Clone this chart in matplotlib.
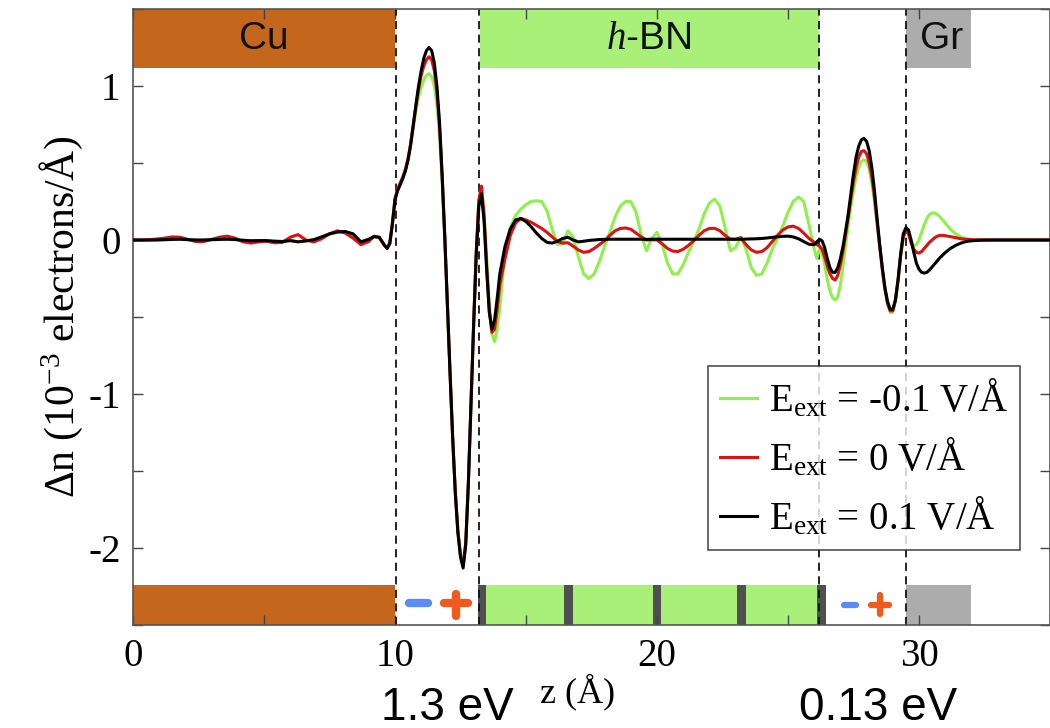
import matplotlib
matplotlib.use("Agg")
import matplotlib.pyplot as plt

plt.rcParams['font.family'] = ['Liberation Serif', 'DejaVu Serif']
plt.rcParams['mathtext.fontset'] = 'custom'
plt.rcParams['mathtext.rm'] = 'Liberation Serif'
plt.rcParams['mathtext.it'] = 'Liberation Serif:italic'
plt.rcParams['mathtext.bf'] = 'Liberation Serif:bold'
plt.rcParams['axes.unicode_minus'] = False

# ---- charge-density difference profiles along z (Angstrom) ----
z = [
    0.0, 0.3, 0.6, 0.9, 1.2, 1.5, 1.8, 2.1, 2.4, 2.7, 3.0, 3.3, 3.6, 3.9, 4.2, 4.5,
    4.8, 5.1, 5.4, 5.7, 6.0, 6.3, 6.6, 6.9, 7.2, 7.5, 7.8, 8.1, 8.4, 8.7, 9.0,
    9.2, 9.4, 9.6, 9.7, 9.8, 9.9,
    10.0, 10.1, 10.2, 10.3, 10.4, 10.5, 10.6, 10.7, 10.8, 10.9,
    11.0, 11.1, 11.2, 11.3, 11.4, 11.5, 11.6, 11.7, 11.8, 11.9,
    12.0, 12.1, 12.2, 12.3, 12.4, 12.5, 12.6, 12.7, 12.8, 12.9,
    13.0, 13.1, 13.2, 13.3, 13.4, 13.5, 13.6, 13.7, 13.8, 13.9, 14.0,
    14.2, 14.4, 14.6, 14.8, 15.0, 15.2, 15.4, 15.6, 15.8, 16.0,
    16.2, 16.4, 16.6, 16.8, 17.0, 17.2, 17.4, 17.6, 17.8, 18.0,
    18.2, 18.4, 18.6, 18.8, 19.0, 19.2, 19.4, 19.6, 19.8, 20.0,
    20.2, 20.4, 20.6, 20.8, 21.0, 21.2, 21.4, 21.6, 21.8, 22.0,
    22.2, 22.4, 22.6, 22.8, 23.0, 23.2, 23.4, 23.6, 23.8, 24.0,
    24.2, 24.4, 24.6, 24.8, 25.0, 25.2, 25.4, 25.6, 25.8, 26.0,
    26.1, 26.2, 26.3, 26.4, 26.5, 26.6, 26.7, 26.8, 26.9, 27.0,
    27.1, 27.2, 27.3, 27.4, 27.5, 27.6, 27.7, 27.8, 27.9, 28.0,
    28.1, 28.2, 28.3, 28.4, 28.5, 28.6, 28.7, 28.8, 28.9, 29.0,
    29.1, 29.2, 29.3, 29.4, 29.5, 29.6, 29.7, 29.8, 29.9, 30.0,
    30.1, 30.2, 30.3, 30.4, 30.5, 30.6, 30.7, 30.8, 30.9, 31.0,
    31.2, 31.4, 31.6, 31.8, 32.0, 32.4, 32.8, 33.2, 33.6, 34.0, 34.5, 35.0,
]

# E_ext = -0.1 V/A
dn_neg = [
    -0.003, -0.003, -0.002, 0.000, 0.002, 0.003, 0.004, 0.002, 0.000, 0.000, 0.002, 0.003,
    0.004, 0.002, -0.002, -0.004, -0.004, -0.004, -0.007, -0.009, -0.004, -0.010, -0.006,
    0.002, 0.018, 0.038, 0.050, 0.052, 0.038, -0.012, 0.005,
    0.020, 0.018, -0.035, -0.050, -0.020, 0.110,
    0.27, 0.33, 0.37, 0.41, 0.46, 0.53, 0.62, 0.73, 0.84, 0.93,
    0.99, 1.04, 1.07, 1.08, 1.06, 1.00, 0.88, 0.68, 0.38, 0.00,
    -0.43, -0.86, -1.28, -1.63, -1.88, -2.04, -2.10, -1.96, -1.57, -1.06,
    -0.54, -0.07, 0.25, 0.33, 0.18, -0.12, -0.42, -0.61, -0.66, -0.58, -0.44,
    -0.07, 0.08, 0.16, 0.20, 0.23, 0.25, 0.255, 0.25, 0.19, 0.07,
    -0.03, -0.025, 0.06, 0.02, -0.11, -0.22, -0.25, -0.22, -0.14, -0.04,
    0.05, 0.15, 0.22, 0.25, 0.25, 0.18, 0.03, -0.07, 0.01, 0.05,
    -0.03, -0.15, -0.22, -0.22, -0.16, -0.08, -0.01, 0.07, 0.17, 0.24,
    0.265, 0.22, 0.08, -0.07, -0.05, 0.02, -0.06, -0.18, -0.23, -0.22,
    -0.15, -0.06, 0.01, 0.09, 0.18, 0.25, 0.28, 0.25, 0.10, -0.06,
    -0.12, -0.06, -0.08, -0.16, -0.26, -0.33, -0.375, -0.39, -0.37, -0.29,
    -0.17, -0.03, 0.10, 0.22, 0.32, 0.41, 0.47, 0.51, 0.52, 0.51,
    0.46, 0.37, 0.25, 0.10, -0.05, -0.19, -0.32, -0.42, -0.47, -0.47,
    -0.40, -0.27, -0.11, 0.02, 0.07, 0.05, -0.01, -0.04, -0.03, 0.00,
    0.05, 0.10, 0.14, 0.165, 0.175, 0.175, 0.165, 0.15, 0.13, 0.11,
    0.07, 0.04, 0.02, 0.009, 0.004, 0.001, 0.0, 0.0, 0.0, 0.0, 0.0, 0.0,
]

# E_ext = 0 V/A
dn_zero = [
    0.000, 0.000, 0.002, 0.006, 0.012, 0.020, 0.018, 0.004, -0.010, -0.010, 0.004, 0.018,
    0.025, 0.012, -0.012, -0.020, -0.012, -0.008, -0.018, -0.016, 0.018, 0.035, 0.000,
    -0.012, 0.008, 0.040, 0.060, 0.045, 0.012, -0.030, -0.010,
    0.025, 0.015, -0.035, -0.050, -0.020, 0.110,
    0.27, 0.33, 0.37, 0.41, 0.46, 0.53, 0.63, 0.75, 0.87, 0.98,
    1.07, 1.13, 1.17, 1.19, 1.17, 1.10, 0.96, 0.74, 0.41, 0.02,
    -0.42, -0.86, -1.28, -1.63, -1.89, -2.05, -2.11, -1.97, -1.58, -1.07,
    -0.55, -0.08, 0.26, 0.35, 0.16, -0.17, -0.46, -0.60, -0.58, -0.45, -0.29,
    -0.12, 0.03, 0.11, 0.14, 0.13, 0.115, 0.095, 0.075, 0.05, 0.02,
    -0.01, -0.02, -0.018, -0.04, -0.065, -0.08, -0.075, -0.055, -0.03, -0.005,
    0.03, 0.06, 0.075, 0.078, 0.07, 0.045, 0.02, 0.0, 0.002, 0.0,
    -0.025, -0.055, -0.072, -0.075, -0.06, -0.035, -0.005, 0.03, 0.06, 0.075,
    0.076, 0.06, 0.03, 0.005, 0.005, 0.015, -0.03, -0.065, -0.08, -0.075,
    -0.05, -0.01, 0.03, 0.065, 0.085, 0.09, 0.075, 0.045, 0.01, -0.015,
    -0.03, -0.04, -0.06, -0.11, -0.17, -0.22, -0.25, -0.26, -0.23, -0.16,
    -0.07, 0.04, 0.15, 0.27, 0.38, 0.47, 0.54, 0.575, 0.58, 0.56,
    0.50, 0.41, 0.28, 0.12, -0.04, -0.19, -0.32, -0.41, -0.46, -0.46,
    -0.39, -0.26, -0.10, 0.02, 0.06, 0.04, -0.02, -0.06, -0.08, -0.085,
    -0.075, -0.055, -0.035, -0.015, 0.0, 0.015, 0.025, 0.03, 0.03, 0.028,
    0.022, 0.015, 0.008, 0.004, 0.002, 0.0, 0.0, 0.0, 0.0, 0.0, 0.0, 0.0,
]

# E_ext = 0.1 V/A
dn_pos = [
    0.000, 0.000, 0.000, 0.000, 0.002, 0.004, 0.005, 0.002, 0.000, 0.000, 0.002, 0.004,
    0.005, 0.003, -0.002, -0.005, -0.004, -0.004, -0.008, -0.010, -0.004, -0.012, -0.006,
    0.002, 0.020, 0.040, 0.052, 0.055, 0.040, -0.012, 0.005,
    0.022, 0.018, -0.035, -0.055, -0.025, 0.100,
    0.26, 0.32, 0.36, 0.40, 0.45, 0.52, 0.62, 0.75, 0.88, 1.00,
    1.10, 1.18, 1.23, 1.25, 1.23, 1.15, 1.00, 0.76, 0.42, 0.02,
    -0.42, -0.86, -1.28, -1.64, -1.90, -2.06, -2.13, -1.98, -1.58, -1.07,
    -0.56, -0.10, 0.22, 0.30, 0.12, -0.20, -0.47, -0.58, -0.52, -0.38, -0.22,
    -0.04, 0.07, 0.13, 0.14, 0.12, 0.085, 0.045, 0.01, -0.015, -0.02,
    -0.008, 0.01, 0.018, 0.0, -0.012, -0.008, -0.003, 0.0, 0.003, 0.004,
    0.005, 0.005, 0.005, 0.005, 0.005, 0.005, 0.005, 0.004, 0.005, 0.006,
    0.005, 0.005, 0.005, 0.005, 0.005, 0.005, 0.005, 0.005, 0.005, 0.005,
    0.005, 0.005, 0.005, 0.005, 0.005, 0.005, 0.006, 0.007, 0.008, 0.010,
    0.013, 0.017, 0.021, 0.024, 0.025, 0.020, 0.008, -0.010, -0.028, -0.030,
    -0.012, 0.004, -0.005, -0.05, -0.12, -0.18, -0.21, -0.21, -0.18, -0.12,
    -0.04, 0.06, 0.17, 0.30, 0.43, 0.54, 0.61, 0.65, 0.66, 0.64,
    0.58, 0.47, 0.32, 0.14, -0.03, -0.18, -0.31, -0.40, -0.45, -0.45,
    -0.39, -0.26, -0.09, 0.04, 0.08, 0.065, 0.0, -0.08, -0.15, -0.19,
    -0.21, -0.215, -0.21, -0.195, -0.175, -0.155, -0.135, -0.115, -0.098, -0.082,
    -0.055, -0.035, -0.02, -0.01, -0.005, -0.001, 0.0, 0.0, 0.0, 0.0, 0.0, 0.0,
]

series_labels = [r'$\mathregular{E_{ext}}$ = -0.1 V/Å',
                 r'$\mathregular{E_{ext}}$ = 0 V/Å',
                 r'$\mathregular{E_{ext}}$ = 0.1 V/Å']
series_colors = ['#8ef04a', '#dd1111', '#000000']

# ---- slab geometry (Angstrom) ----
region_spans = [(0.0, 10.0), (13.25, 26.2), (29.5, 32.0)]
region_colors = ['#c4661b', '#a8f078', '#acacac']
bn_layers = [13.33, 16.62, 20.0, 23.22, 26.28]
interfaces = [10.05, 13.2, 26.2, 29.5]
gap_labels = ['1.3 eV', '0.13 eV']

fig = plt.figure(figsize=(10.5, 7.28), dpi=100)
ax = fig.add_axes([133 / 1050, 1 - 625 / 728, 917 / 1050, 616 / 728])
ax.set_xlim(0, 35)
ax.set_ylim(-2.5, 1.5)

# region bars at top and bottom
top_lo, bot_hi = 1.12, -2.24
for (a, b), c in zip(region_spans, region_colors):
    ax.fill_between([a, b], top_lo, 1.5, color=c, lw=0, zorder=1)
ax.fill_between([region_spans[0][0], region_spans[0][1]], -2.5, bot_hi,
                color=region_colors[0], lw=0, zorder=1)
ax.fill_between([bn_layers[0] - 0.1, bn_layers[-1] + 0.17], -2.5, bot_hi,
                color=region_colors[1], lw=0, zorder=1)
ax.fill_between([region_spans[2][0], region_spans[2][1]], -2.5, bot_hi,
                color=region_colors[2], lw=0, zorder=1)
for zl in bn_layers:
    ax.fill_between([zl - 0.16, zl + 0.16], -2.5, bot_hi, color='#505050', lw=0, zorder=1.5)

# region names
name_pos = [5.0, 19.7, 30.85]
for nm, xp in zip(['Cu', '$h$-BN', 'Gr'], name_pos):
    ax.text(xp, 1.305, nm, ha='center', va='center', fontsize=28,
            family='Liberation Sans', color='#111111', zorder=3)

# interface markers
for zi in interfaces:
    ax.axvline(zi, color='#111111', lw=1.3, dashes=(4.5, 3), zorder=2)

# dipole sign markers
sign_blue, sign_red = '#5b8cf5', '#f05a1e'
ax.plot([10.55, 11.25], [-2.36, -2.36], color=sign_blue, lw=6, solid_capstyle='round', zorder=3)
ax.plot([11.88, 12.78], [-2.36, -2.36], color=sign_red, lw=6, solid_capstyle='round', zorder=3)
ax.plot([12.33, 12.33], [-2.30, -2.44], color=sign_red, lw=6, solid_capstyle='round', zorder=3)
ax.plot([27.12, 27.58], [-2.37, -2.37], color=sign_blue, lw=4.5, solid_capstyle='round', zorder=3)
ax.plot([28.18, 28.84], [-2.37, -2.37], color=sign_red, lw=4.5, solid_capstyle='round', zorder=3)
ax.plot([28.51, 28.51], [-2.305, -2.43], color=sign_red, lw=4.5, solid_capstyle='round', zorder=3)

# profiles
for vals, col, lab, zo in zip([dn_neg, dn_zero, dn_pos], series_colors, series_labels, [4, 5, 6]):
    ax.plot(z, vals, color=col, lw=2.2, label=lab, zorder=zo, solid_joinstyle='round')

# axes styling
ax.set_xticks([0, 10, 20, 30])
ax.set_xticks([5, 15, 25, 35], minor=True)
ax.set_yticks([-2, -1, 0, 1])
ax.set_yticks([-2.5, -1.5, -0.5, 0.5, 1.5], minor=True)
ax.tick_params(which='both', direction='in', top=True, right=True, length=7,
               width=1.0, color='#444444', labelsize=28)
ax.tick_params(axis='x', pad=9)
ax.tick_params(axis='y', pad=9)
for sp in ax.spines.values():
    sp.set_color('#555555')
    sp.set_linewidth(1.2)

ax.set_ylabel('Δn (10$^{-3}$ electrons/Å)', fontsize=30, labelpad=2)
fig.text(578 / 1050, 1 - 692 / 728, 'z (Å)', ha='center', va='center', fontsize=26)
fig.text(447 / 1050, 1 - 708 / 728, gap_labels[0], ha='center', va='center',
         fontsize=33, family='Liberation Sans')
fig.text(878 / 1050, 1 - 708 / 728, gap_labels[1], ha='center', va='center',
         fontsize=33, family='Liberation Sans')

leg = ax.legend(loc='lower right', bbox_to_anchor=(0.967, 0.122), borderaxespad=0,
                fontsize=28, frameon=True, fancybox=False, handlelength=0.95,
                handletextpad=0.3, labelspacing=0.42, borderpad=0.3)
leg.get_frame().set_edgecolor('#222222')
leg.get_frame().set_linewidth(1.2)
leg.set_zorder(10)

fig.savefig('out.png', dpi=100)
